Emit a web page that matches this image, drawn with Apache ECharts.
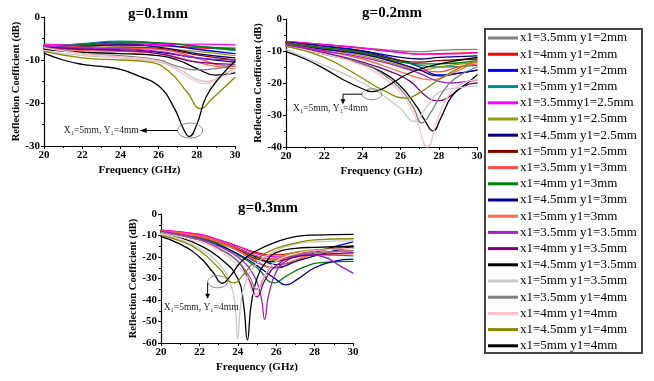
<!DOCTYPE html>
<html><head><meta charset="utf-8">
<script src="https://cdn.jsdelivr.net/npm/echarts@6/dist/echarts.min.js"></script>
<style>html,body{margin:0;padding:0;background:#fff}#c{width:654px;height:381px}</style>
</head><body><div id="c"></div>
<script>
const names = ["x1=3.5mm y1=2mm","x1=4mm y1=2mm","x1=4.5mm y1=2mm","x1=5mm y1=2mm","x1=3.5mmy1=2.5mm","x1=4mm y1=2.5mm","x1=4.5mm y1=2.5mm","x1=5mm y1=2.5mm","x1=3.5mm y1=3mm","x1=4mm y1=3mm","x1=4.5mm y1=3mm","x1=5mm y1=3mm","x1=3.5mm y1=3.5mm","x1=4mm y1=3.5mm","x1=4.5mm y1=3.5mm","x1=5mm y1=3.5mm","x1=3.5mm y1=4mm","x1=4mm y1=4mm","x1=4.5mm y1=4mm","x1=5mm y1=4mm"];
const palette = ["#808080","#ff0000","#0000ff","#008b8b","#ff00ff","#9a9a10","#000080","#800000","#ff4c4c","#008000","#000090","#ff6a4a","#a020d0","#800080","#000000","#c8c8c8","#808080","#ffc0cb","#8a8a00","#000000"];
const titles = ["g=0.1mm","g=0.2mm","g=0.3mm"];
const yMins = [-30,-40,-60];
const xTicks = [20,22,24,26,28,30];

const g01 = [
 [[20,-6.5],[22,-6.8],[24,-6.5],[26,-6.8],[28,-7],[30,-7.2]],
 [[20,-6.6],[22,-6.5],[24,-6.2],[26,-6.5],[28,-7.2],[30,-7.5]],
 [[20,-6.8],[22,-6.3],[24,-5.8],[25,-5.8],[26,-6.3],[28,-7.5],[30,-8.5]],
 [[20,-7],[22,-6.2],[24,-5.6],[26,-6],[28,-6.8],[30,-7.8]],
 [[20,-6.3],[22,-6.6],[24,-6.5],[26,-6.4],[28,-6.3],[30,-6.5]],
 [[20,-6.8],[22,-7],[24,-7],[26,-7.3],[28,-8],[30,-9]],
 [[20,-7.2],[22,-6.8],[24,-6.5],[26,-7],[28,-8.5],[30,-9.5]],
 [[20,-7],[22,-7.2],[24,-7],[26,-7.3],[28,-8.8],[30,-10]],
 [[20,-6.5],[22,-7],[24,-7.2],[26,-7.5],[28,-9.5],[29,-11],[30,-11.5]],
 [[20,-7],[22,-6.5],[24,-6],[26,-6],[28,-6.8],[30,-7.5]],
 [[20,-7.3],[22,-7.5],[24,-7.5],[26,-8.2],[28,-9.5],[30,-10.5]],
 [[20,-7],[22,-7.8],[24,-8],[26,-8.5],[28,-10.5],[29,-11.5],[30,-12]],
 [[20,-6.8],[22,-7.2],[24,-7.5],[26,-8],[28,-9.5],[30,-10]],
 [[20,-7],[22,-7.5],[24,-7.8],[26,-8.5],[28,-10.5],[30,-11]],
 [[20,-7.5],[22,-8.2],[24,-8.5],[26,-9],[27,-10],[28,-12],[29,-13.5],[30,-13]],
 [[20,-7.8],[22,-9],[24,-9.5],[26,-10.5],[27,-12],[28,-14.5],[28.5,-15],[29.5,-13],[30,-12]],
 [[20,-7],[22,-8.5],[24,-9],[26,-10],[27,-11.5],[28,-12.3],[29,-12],[30,-11]],
 [[20,-7.2],[22,-8.5],[24,-9.3],[26,-10.2],[27,-12.5],[28,-15],[28.4,-15.5],[29.3,-14],[30,-12.5]],
 [[20,-8],[22,-9.5],[24,-10],[25.5,-10.5],[26.5,-12.5],[27.5,-17.5],[28.2,-21.3],[28.8,-19],[30,-14]],
 [[20,-8.4],[21,-10],[22,-11],[23,-11.5],[24,-12.2],[25,-13.8],[26,-16],[26.8,-21],[27.3,-26],[27.6,-27.8],[28,-25],[28.5,-18.5],[29.3,-13.5],[30,-10.3]]
];
const g02 = [
 [[20,-7.2],[22,-8],[24,-9],[26,-10],[27,-10.2],[28,-9.8],[30,-9.5]],
 [[20,-7],[22,-8],[24,-9.2],[26,-10.5],[27,-11],[28,-10.8],[30,-10.5]],
 [[20,-7.3],[22,-8.5],[24,-10],[26,-13],[27,-15],[28,-17.5],[29,-17],[30,-16]],
 [[20,-7.5],[22,-9],[24,-10.5],[26,-13],[27,-14.5],[28,-15],[30,-14.5]],
 [[20,-7],[22,-8],[24,-9],[26,-10.5],[27,-11],[28,-11],[30,-10.5]],
 [[20,-7.8],[22,-9.5],[24,-11.5],[26,-14.5],[27,-16],[28,-15],[30,-13.5]],
 [[20,-7.2],[22,-8.5],[24,-10],[26,-12],[27,-12.5],[28,-12],[30,-11.5]],
 [[20,-7.5],[22,-9],[24,-10.5],[26,-13],[27,-13.5],[28,-13],[30,-12.5]],
 [[20,-7.5],[22,-9],[24,-11],[26,-14],[27,-16],[28,-16.5],[29,-15],[30,-14]],
 [[20,-7.5],[22,-9],[24,-10.5],[26,-13.5],[27,-14],[28,-14],[30,-13]],
 [[20,-8],[22,-9.5],[24,-11],[26,-14],[27,-16],[28,-17.8],[29,-17],[30,-16]],
 [[20,-8],[22,-10],[24,-12.5],[26,-16.5],[27,-18.5],[27.5,-19],[28.5,-17.5],[30,-13]],
 [[20,-8],[22,-10],[24,-12],[26,-15],[27,-17],[28,-19.5],[28.7,-20],[29.5,-19.5],[30,-19]],
 [[20,-8.3],[22,-10.5],[24,-13.5],[25.5,-16.5],[26.5,-19.5],[27.3,-24],[27.9,-25.5],[28.5,-24.5],[29.3,-21],[30,-20]],
 [[20,-8.5],[22,-11],[24,-14],[25,-16.5],[26,-21],[26.8,-27],[27.3,-32],[27.7,-35],[28.1,-31],[28.7,-24],[29.5,-20],[30,-17.5]],
 [[20,-9.5],[21,-12],[22,-14.5],[23,-17],[24,-20],[25,-23.5],[26,-28],[26.7,-32],[27.3,-28],[28,-23],[29,-21.5],[30,-21]],
 [[20,-8.5],[22,-11],[24,-14],[25,-17],[26,-22],[26.7,-28],[27.1,-32.5],[27.6,-29],[28.3,-22],[29,-18],[30,-15]],
 [[20,-8.5],[22,-11],[24,-14.5],[25,-18],[26,-23],[26.8,-31],[27.4,-40],[27.9,-32],[28.5,-24],[29.3,-20],[30,-19]],
 [[20,-8.5],[21,-10],[22,-12],[23,-15],[24,-18.5],[25,-22],[26.3,-24.7],[27,-23],[28,-19],[29,-15.5],[30,-13]],
 [[20,-10.2],[21,-12.5],[22,-15.5],[23,-19],[24,-21.8],[24.5,-22.7],[25,-22],[25.7,-19.5],[26.5,-16.8],[27.5,-14.8],[28.5,-13.5],[30,-12]]
];
const g03 = [
 [[20,-7.8],[22,-10],[23,-12.5],[24,-16],[25,-20],[26,-21],[27,-19],[28,-17],[30,-15]],
 [[20,-7.5],[22,-9.5],[23,-12],[24,-15],[25,-18],[26,-19],[27,-18],[28,-17],[30,-15.5]],
 [[20,-8],[22,-10.5],[23,-13],[24,-17],[25,-22.5],[26,-25],[27,-22],[28,-18],[30,-13]],
 [[20,-8],[22,-10],[23,-12.5],[24,-16],[25,-20.5],[25.7,-22.5],[26.5,-20],[28,-19],[30,-19.5]],
 [[20,-7.5],[22,-9.5],[23,-12],[24,-15],[25,-18.5],[26,-20],[27,-19],[28,-18],[30,-17]],
 [[20,-8.5],[22,-11],[23,-13.5],[24,-17],[25,-21],[25.6,-22],[26.5,-19],[27.5,-17],[30,-16]],
 [[20,-8],[22,-10.5],[23,-13],[24,-16],[25,-20],[26,-23.5],[27,-22],[28,-19.5],[30,-15]],
 [[20,-8],[22,-10.5],[23,-13],[24,-16.5],[25,-21],[26,-22],[27,-19],[28,-17],[30,-16]],
 [[20,-7.8],[22,-10],[23,-12.5],[24,-16],[25,-19.5],[26,-21],[27,-20],[28,-19],[30,-18.5]],
 [[20,-8],[22,-11],[23,-14],[24,-19],[25,-25],[25.9,-32],[26.5,-29],[27.5,-24.5],[28.5,-22.5],[30,-22]],
 [[20,-8.5],[22,-11.5],[23,-14.5],[24,-18.5],[25,-24],[26,-30.5],[26.5,-33],[27,-31],[28,-25],[29,-22],[30,-21]],
 [[20,-8],[22,-10.5],[23,-13],[24,-17],[25,-22],[25.8,-25],[26.5,-23],[27.5,-20],[28.5,-18],[30,-17]],
 [[20,-8],[22,-11.5],[23,-15],[24,-20],[24.8,-28],[25.2,-38],[25.4,-49],[25.6,-38],[26,-27],[26.5,-22],[27.5,-19],[28.5,-20],[29.3,-24],[30,-27.5]],
 [[20,-8.5],[22,-12],[23,-16],[24,-22],[24.6,-31],[25,-38.5],[25.4,-31],[26,-24],[27,-20],[28,-19],[30,-18]],
 [[20,-9],[21,-11],[22,-14.5],[23,-20],[24,-30],[24.3,-42],[24.5,-58.5],[24.7,-42],[25,-30],[25.5,-22],[26,-18],[27,-16],[28,-15.5],[30,-15]],
 [[20,-9.5],[21,-12],[22,-16],[23,-23],[23.6,-32],[23.85,-42],[24,-58],[24.15,-42],[24.4,-32],[25,-23],[26,-17],[27,-14],[28,-13],[30,-12.5]],
 [[20,-8.5],[22,-12],[23,-16],[24,-22],[24.6,-29],[25,-35],[25.4,-29],[26,-22],[27,-19],[28,-18],[30,-17]],
 [[20,-9],[22,-13],[23,-17],[24,-24],[24.5,-30],[24.9,-38],[25.3,-30],[26,-22],[27,-18.5],[28,-17],[30,-16]],
 [[20,-10],[21,-12.5],[22,-17],[23,-25],[23.8,-32],[24.3,-28],[25,-21],[26,-16],[27,-13.5],[28,-12],[30,-11.5]],
 [[20,-10.5],[21,-14],[22,-20],[22.7,-27],[23.2,-32.2],[23.6,-29],[24.2,-22],[25,-17],[26,-13],[27,-10.5],[28,-9.8],[30,-9.5]]
];
const panels = [g01, g02, g03];
// annotation anchor points (data coords): ellipse centre, ellipse radii in data units
const notes = [
 {c:[27.65,-26.4], r:[0.65,1.75]},
 {c:[24.5,-23.5], r:[0.52,1.7]},
 {c:[22.95,-31.5], r:[0.52,2.8]}
];

const grids = [
 {left:44, top:17, width:191, height:129},
 {left:286, top:19, width:191, height:128},
 {left:161, top:214, width:192, height:129}
];
const serif = '"Liberation Serif","Times New Roman",serif';
const chart = echarts.init(document.getElementById('c'), null, {renderer:'canvas'});

const xAxes = grids.map((g,i)=>({
 type:'value', gridIndex:i, min:20, max:30, interval:2,
 name:'Frequency (GHz)', nameLocation:'middle', nameGap:19,
 nameTextStyle:{fontFamily:serif, fontWeight:'bold', fontSize:11, color:'#000'},
 axisLine:{onZero:false, lineStyle:{color:'#000', width:1.2}},
 axisTick:{show:true, length:3, inside:false, lineStyle:{color:'#000'}},
 minorTick:{show:true, splitNumber:2, length:2, lineStyle:{color:'#000'}},
 splitLine:{show:false},
 axisLabel:{fontFamily:serif, fontWeight:'bold', fontSize:11, color:'#000', margin:4}
}));
const yAxes = grids.map((g,i)=>({
 type:'value', gridIndex:i, min:yMins[i], max:0, interval:10,
 name:'Reflection Coefficient (dB)', nameLocation:'middle', nameGap:20, nameRotate:90,
 nameTextStyle:{fontFamily:serif, fontWeight:'bold', fontSize:10.5, color:'#000'},
 axisLine:{show:true, onZero:false, lineStyle:{color:'#000', width:1.2}},
 axisTick:{show:true, length:3, lineStyle:{color:'#000'}},
 minorTick:{show:true, splitNumber:2, length:2, lineStyle:{color:'#000'}},
 splitLine:{show:false},
 axisLabel:{fontFamily:serif, fontWeight:'bold', fontSize:11, color:'#000', margin:4}
}));

const series = [];
panels.forEach((p,pi)=>{
 p.forEach((d,si)=>{
  series.push({type:'line', name:names[si], xAxisIndex:pi, yAxisIndex:pi, data:d,
   smooth:0.5, symbol:'none', showSymbol:false,
   lineStyle:{width:1.3, color:palette[si], cap:'round', join:'round'}, itemStyle:{color:palette[si]},
   silent:true, animation:false, clip:true});
 });
});

const titleCenters = [[153,2],[387,1],[263,196]];
chart.setOption({
 backgroundColor:'#fff',
 animation:false,
 color:palette,
 title: titles.map((t,i)=>({text:t, left:titleCenters[i][0], top:titleCenters[i][1], textAlign:'center',
   textStyle:{fontFamily:serif, fontWeight:'bold', fontSize:15, color:'#000'}})),
 grid: grids,
 xAxis: xAxes, yAxis: yAxes,
 legend:{
  data:names, orient:'vertical', left:488, top:31, itemWidth:30, itemHeight:14, itemGap:2.2,
  icon:'path://M0,0L30,0L30,3L0,3Z', itemStyle:{borderWidth:0},
  selectedMode:false, padding:0,
  textStyle:{fontFamily:serif, fontSize:13, color:'#000', lineHeight:14, padding:[0,0,0,-3]}
 },
 series: series
});

// annotations placed through the chart's own coordinate conversion
const gfx = [];
notes.forEach((n,i)=>{
 const c = chart.convertToPixel({gridIndex:i}, n.c);
 const e = chart.convertToPixel({gridIndex:i}, [n.c[0]+n.r[0], n.c[1]+n.r[1]]);
 const rx = Math.abs(e[0]-c[0]), ry = Math.abs(e[1]-c[1]);
 gfx.push({type:'ellipse', shape:{cx:c[0], cy:c[1], rx:rx, ry:ry}, style:{fill:null, stroke:'#888', lineWidth:1}, z:100});
 const lx = c[0]-rx;
 let pts, head, tx, ty, ta;
 if(i===0){
  pts=[[lx,c[1]],[lx-34,c[1]]];
  head=[[lx-38,c[1]],[lx-31,c[1]-2.5],[lx-31,c[1]+2.5]];
  tx=lx-39; ty=c[1]; ta='right';
 } else if(i===1){
  pts=[[lx,c[1]],[lx-19,c[1]],[lx-19,c[1]+6]];
  head=[[lx-19,c[1]+10],[lx-21.5,c[1]+5],[lx-16.5,c[1]+5]];
  tx=lx-69; ty=c[1]+14; ta='left';
 } else {
  pts=[[lx,c[1]+1],[lx,c[1]+13]];
  head=[[lx,c[1]+17],[lx-2.5,c[1]+12],[lx+2.5,c[1]+12]];
  tx=lx-44; ty=c[1]+26; ta='left';
 }
 gfx.push({type:'polyline', shape:{points:pts}, style:{stroke:'#000', lineWidth:1, fill:null}, z:100});
 gfx.push({type:'polygon', shape:{points:head}, style:{fill:'#000'}, z:100});
 gfx.push({type:'text', x:tx, y:ty, style:{text:'X\u2081=5mm, Y\u2081=4mm', fill:'#222', font:'9.5px '+serif, textAlign:ta, textVerticalAlign:'middle'}, z:100});
});
gfx.push({type:'rect', shape:{x:485, y:29, width:157, height:324}, style:{fill:null, stroke:'#444', lineWidth:2}, z:50});
chart.setOption({graphic:gfx});
</script></body></html>
